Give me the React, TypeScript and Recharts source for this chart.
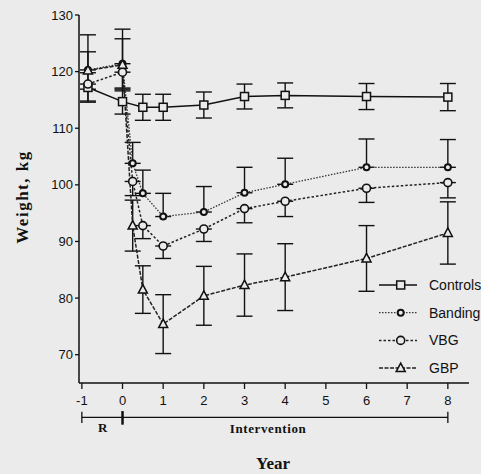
import React from 'react';
import {
  ComposedChart,
  Line,
  XAxis,
  YAxis,
  ErrorBar,
  ReferenceLine,
  ReferenceDot,
  Legend,
  Label,
} from 'recharts';

// ---- data ----
const years = [-0.85, 0, 0.25, 0.5, 1, 2, 3, 4, 6, 8];
const controlYears = [-0.85, 0, 0.5, 1, 2, 3, 4, 6, 8];
const controls = [117.2, 114.7, 113.7, 113.7, 114.1, 115.6, 115.8, 115.6, 115.5];
const controlsErr = [2.6, 2.2, 2.3, 2.3, 2.3, 2.2, 2.2, 2.3, 2.4];
const banding = [120.3, 121.4, 103.8, 98.5, 94.4, 95.2, 98.6, 100.1, 103.1, 103.1];
const bandingErrUp = [6.2, 6.1, 3.7, 4.1, 4.1, 4.5, 4.5, 4.6, 5.0, 4.9];
const vbg = [117.8, 119.9, 100.6, 92.8, 89.2, 92.2, 95.8, 97.1, 99.4, 100.4];
const vbgErrDown = [3.0, 2.8, 2.5, 2.3, 2.2, 2.2, 2.5, 2.7, 2.5, 2.7];
const gbp = [120.2, 121.2, 92.8, 81.5, 75.4, 80.4, 82.3, 83.7, 87.0, 91.5];
const gbpErr = [3.3, 4.6, 4.5, 4.2, 5.2, 5.2, 5.5, 5.9, 5.8, 5.5];
const xTicks = [-1, 0, 1, 2, 3, 4, 5, 6, 7, 8];
const yTicks = [70, 80, 90, 100, 110, 120, 130];
const seriesNames = ['Controls', 'Banding', 'VBG', 'GBP'];
const periodLabels = ['R', 'Intervention'];

// annotation bracket (in data units)
const bracketStart = -1;
const bracketSplit = 0;
const bracketEnd = 8;
const bracketLevel = 58.94;
const rLabelPos = { x: -0.48, y: 57.2 };
const intLabelPos = { x: 3.58, y: 57.0 };

const mainData = years.map((x, i) => ({
  x,
  banding: banding[i],
  bandingErr: [0, bandingErrUp[i]],
  vbg: vbg[i],
  vbgErr: [vbgErrDown[i], 0],
  gbp: gbp[i],
  gbpErr: [gbpErr[i], gbpErr[i]],
}));
const controlsData = controlYears.map((x, i) => ({
  x,
  controls: controls[i],
  controlsErr: [controlsErr[i], controlsErr[i]],
}));

const BG = '#ebebeb';
const INK = '#111';
const SANS = '"Liberation Sans", Arial, sans-serif';
const SERIF = '"Liberation Serif", "Times New Roman", serif';

const squareDot = (p: any) => {
  if (p.cx == null || p.cy == null) return <g key={`sq${p.index}`} />;
  return (
    <rect key={`sq${p.index}`} x={p.cx - 4} y={p.cy - 4} width={8} height={8}
      fill={BG} stroke={INK} strokeWidth={1.5} />
  );
};
const smallDot = (p: any) => {
  if (p.cx == null || p.cy == null) return <g key={`sd${p.index}`} />;
  return <circle key={`sd${p.index}`} cx={p.cx} cy={p.cy} r={3} fill={BG} stroke={INK} strokeWidth={2} />;
};
const circleDot = (p: any) => {
  if (p.cx == null || p.cy == null) return <g key={`cd${p.index}`} />;
  return <circle key={`cd${p.index}`} cx={p.cx} cy={p.cy} r={4} fill={BG} stroke={INK} strokeWidth={1.6} />;
};
const triDot = (p: any) => {
  if (p.cx == null || p.cy == null) return <g key={`td${p.index}`} />;
  const { cx, cy } = p;
  return (
    <polygon key={`td${p.index}`}
      points={`${cx},${cy - 5} ${cx - 4.5},${cy + 3.5} ${cx + 4.5},${cy + 3.5}`}
      fill={BG} stroke={INK} strokeWidth={1.5} />
  );
};

const legendStyle = [
  { dash: undefined, width: 1.5, color: INK, dot: squareDot },
  { dash: '1.5 1.5', width: 1.3, color: '#333', dot: smallDot },
  { dash: '2.5 2', width: 1.5, color: '#222', dot: circleDot },
  { dash: '4 1.5', width: 1.5, color: '#222', dot: triDot },
];

const renderLegend = () => (
  <svg width={109} height={108}>
    {seriesNames.map((n, i) => {
      const y = 13 + i * 27.7;
      const s = legendStyle[i];
      return (
        <g key={n}>
          <line x1={7} x2={45} y1={y} y2={y} stroke={s.color} strokeWidth={s.width} strokeDasharray={s.dash} />
          {s.dot({ cx: 28.7, cy: y, index: i })}
          <text x={57} y={y} dominantBaseline="central" fontSize={14} fontFamily={SANS} fill={INK}>
            {n}
          </text>
        </g>
      );
    })}
  </svg>
);

const yLabel = (props: any) => {
  const vb = props.viewBox;
  const cx = vb.x - 17;
  const cy = vb.y + vb.height / 2 - 2;
  return (
    <text x={cx} y={cy} transform={`rotate(-90 ${cx} ${cy})`} textAnchor="middle"
      dominantBaseline="central" fontFamily={SERIF} fontWeight="bold" fontSize={17}
      letterSpacing={1.5} fill={INK}>
      Weight, kg
    </text>
  );
};
const xLabel = (props: any) => {
  const vb = props.viewBox;
  return (
    <text x={vb.x + vb.width / 2 - 1} y={vb.y + 86} textAnchor="middle"
      fontFamily={SERIF} fontWeight="bold" fontSize={17} fill={INK}>
      Year
    </text>
  );
};

const annoLabel = (value: string) => ({
  value,
  position: 'center' as const,
  fill: INK,
  fontSize: 13,
  fontWeight: 'bold',
  fontFamily: SERIF,
  letterSpacing: 0.6,
});

export default function App() {
  return (
    <div style={{ position: 'absolute', left: 0, top: 0, width: 481, height: 474, background: BG }}>
      <ComposedChart width={481} height={474} data={mainData}
        margin={{ top: 15, right: 12, left: 39, bottom: 61 }}>
        <XAxis dataKey="x" type="number" domain={[-1.07, 8.52]} ticks={xTicks}
          allowDataOverflow tickSize={6} tickMargin={7} height={30}
          axisLine={{ stroke: INK, strokeWidth: 1.5 }} tickLine={{ stroke: INK, strokeWidth: 1.3 }}
          tick={{ fill: INK, fontSize: 13, fontFamily: SANS }}>
          <Label content={xLabel} />
        </XAxis>
        <YAxis type="number" domain={[65, 130]} ticks={yTicks} width={40}
          allowDataOverflow tickSize={4} tickMargin={2}
          axisLine={{ stroke: INK, strokeWidth: 1.5 }} tickLine={{ stroke: INK, strokeWidth: 1.3 }}
          tick={{ fill: INK, fontSize: 13, fontFamily: SANS }}>
          <Label content={yLabel} />
        </YAxis>

        <Line data={controlsData} dataKey="controls" name="Controls" stroke={INK} strokeWidth={1.5}
          dot={squareDot} activeDot={false} isAnimationActive={false}>
          <ErrorBar dataKey="controlsErr" width={8} stroke={INK} strokeWidth={1.4} direction="y" />
        </Line>
        <Line dataKey="banding" name="Banding" stroke="#333" strokeWidth={1.3} strokeDasharray="1.5 1.5"
          dot={smallDot} activeDot={false} isAnimationActive={false}>
          <ErrorBar dataKey="bandingErr" width={8} stroke={INK} strokeWidth={1.4} direction="y" />
        </Line>
        <Line dataKey="vbg" name="VBG" stroke="#222" strokeWidth={1.5} strokeDasharray="2.5 2"
          dot={circleDot} activeDot={false} isAnimationActive={false}>
          <ErrorBar dataKey="vbgErr" width={8} stroke={INK} strokeWidth={1.4} direction="y" />
        </Line>
        <Line dataKey="gbp" name="GBP" stroke="#222" strokeWidth={1.5} strokeDasharray="4 1.5"
          dot={triDot} activeDot={false} isAnimationActive={false}>
          <ErrorBar dataKey="gbpErr" width={8} stroke={INK} strokeWidth={1.4} direction="y" />
        </Line>

        <ReferenceLine ifOverflow="visible" stroke={INK} strokeWidth={1.3}
          segment={[{ x: bracketStart, y: bracketLevel }, { x: bracketEnd, y: bracketLevel }]} />
        <ReferenceLine ifOverflow="visible" stroke={INK} strokeWidth={1.3}
          segment={[{ x: bracketStart, y: bracketLevel - 1 }, { x: bracketStart, y: bracketLevel + 1 }]} />
        <ReferenceLine ifOverflow="visible" stroke={INK} strokeWidth={2.5}
          segment={[{ x: bracketSplit, y: bracketLevel - 1.3 }, { x: bracketSplit, y: bracketLevel + 1.1 }]} />
        <ReferenceLine ifOverflow="visible" stroke={INK} strokeWidth={1.3}
          segment={[{ x: bracketEnd, y: bracketLevel - 1 }, { x: bracketEnd, y: bracketLevel + 1 }]} />
        <ReferenceDot ifOverflow="visible" x={rLabelPos.x} y={rLabelPos.y} r={0} stroke="none"
          label={annoLabel(periodLabels[0])} />
        <ReferenceDot ifOverflow="visible" x={intLabelPos.x} y={intLabelPos.y} r={0} stroke="none"
          label={annoLabel(periodLabels[1])} />

        <Legend layout="vertical" align="center" verticalAlign="middle" content={renderLegend}
          wrapperStyle={{ left: 372, top: 272, width: 109, height: 108 }} />
      </ComposedChart>
    </div>
  );
}
